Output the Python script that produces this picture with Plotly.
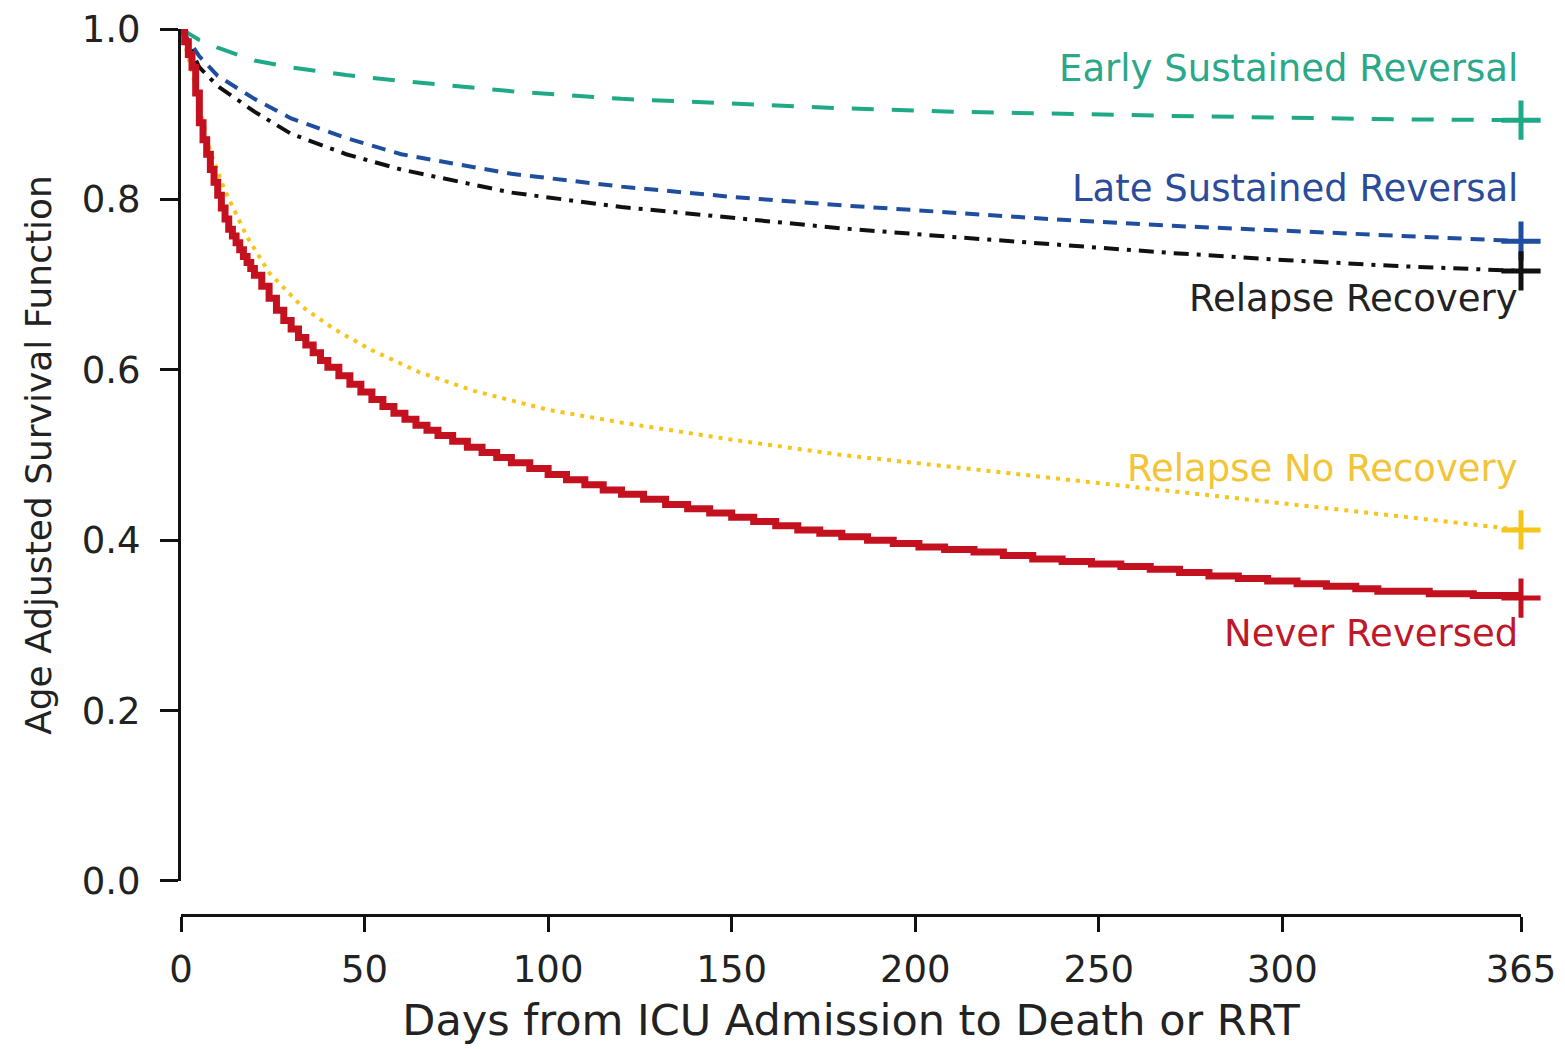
import plotly.graph_objects as go

# ---------------- data ----------------
x_ticks = [0, 50, 100, 150, 200, 250, 300, 365]
y_ticks = [0.0, 0.2, 0.4, 0.6, 0.8, 1.0]

early_days = [0, 5, 10, 20, 30, 45, 60, 90, 120, 150, 180, 210, 240, 270, 300, 330, 365]
early_vals = [1.0, 0.987, 0.978, 0.963, 0.955, 0.946, 0.939, 0.927, 0.918, 0.912, 0.907, 0.903, 0.900, 0.898, 0.896, 0.894, 0.893]

late_days = [0, 5, 10, 20, 30, 45, 60, 90, 120, 150, 180, 210, 240, 270, 300, 330, 365]
late_vals = [1.0, 0.968, 0.945, 0.918, 0.895, 0.872, 0.853, 0.830, 0.815, 0.803, 0.793, 0.784, 0.776, 0.769, 0.763, 0.757, 0.751]

relrec_days = [0, 5, 10, 20, 30, 45, 60, 90, 120, 150, 180, 210, 240, 270, 300, 330, 365]
relrec_vals = [1.0, 0.955, 0.933, 0.903, 0.877, 0.853, 0.835, 0.808, 0.791, 0.778, 0.766, 0.756, 0.746, 0.737, 0.729, 0.722, 0.716]

relno_days = [0, 3, 5, 8, 12, 18, 24, 33, 42, 52, 65, 80, 100, 120, 150, 180, 210, 240, 270, 300, 330, 365]
relno_vals = [1.0, 0.95, 0.91, 0.856, 0.81, 0.756, 0.714, 0.674, 0.647, 0.623, 0.597, 0.575, 0.553, 0.538, 0.518, 0.500, 0.486, 0.472, 0.458, 0.444, 0.429, 0.412]

never_days = [0, 1, 2, 3, 4, 5, 6, 7, 8, 9, 10, 11, 12, 13, 14, 15, 16, 17, 18, 19, 20,
              22, 24, 26, 28, 30, 32, 34, 36, 38, 40, 43, 46, 49, 52, 55, 58, 61, 64, 67, 70,
              74, 78, 82, 86, 90, 95, 100, 105, 110, 115, 120, 126, 132, 138, 144, 150, 156,
              162, 168, 174, 180, 187, 194, 201, 208, 216, 224, 232, 240, 248, 256, 264, 272,
              280, 288, 296, 304, 312, 320, 326, 340, 352, 365]
never_vals = [1.0, 0.985, 0.97, 0.955, 0.925, 0.89, 0.87, 0.853, 0.835, 0.82, 0.805, 0.79, 0.777,
              0.765, 0.757, 0.749, 0.741, 0.733, 0.726, 0.719, 0.711,
              0.698, 0.684, 0.670, 0.658, 0.648, 0.638, 0.629, 0.620, 0.611, 0.603, 0.593, 0.583,
              0.574, 0.565, 0.557, 0.549, 0.542, 0.535, 0.529, 0.523,
              0.516, 0.509, 0.503, 0.497, 0.491, 0.484, 0.477, 0.471, 0.465, 0.459, 0.454, 0.448,
              0.442, 0.437, 0.432, 0.427, 0.422,
              0.417, 0.412, 0.408, 0.404, 0.400, 0.396, 0.392, 0.389, 0.386, 0.382, 0.378, 0.375,
              0.372, 0.369, 0.366, 0.362,
              0.358, 0.355, 0.352, 0.349, 0.346, 0.343, 0.340, 0.337, 0.335, 0.332]

series_names = ["Early Sustained Reversal", "Late Sustained Reversal", "Relapse Recovery",
                "Relapse No Recovery", "Never Reversed"]
label_vals = [0.954, 0.813, 0.684, 0.484, 0.290]

# ---------------- styles ----------------
GREEN = "#1fa987"
BLUE = "#1f4e9e"
BLACK = "#111111"
YELLOW = "#f6c51b"
RED = "#c4111f"
TEXT = "#222222"
FONT = "DejaVu Sans, Verdana, sans-serif"

specs = [
    (early_days, early_vals, GREEN, "22px,18px", 4, "linear", "#2aa88a"),
    (late_days, late_vals, BLUE, "14px,9px", 4, "linear", "#2b4c9b"),
    (relrec_days, relrec_vals, BLACK, "15px,8px,4px,8px", 4, "linear", "#222222"),
    (relno_days, relno_vals, YELLOW, "4px,6px", 4, "linear", "#f2c438"),
    (never_days, never_vals, RED, "solid", 7, "hv", "#c0182a"),
]

fig = go.Figure()
for (d, v, col, dash, w, shape, tcol), name in zip(specs, series_names):
    fig.add_trace(go.Scatter(x=d, y=v, mode="lines", name=name,
                             line=dict(color=col, width=w, dash=dash, shape=shape),
                             showlegend=False))
for (d, v, col, dash, w, shape, tcol), name in zip(specs, series_names):
    fig.add_trace(go.Scatter(x=[d[-1]], y=[v[-1]], mode="markers", showlegend=False,
                             cliponaxis=False,
                             marker=dict(symbol="cross-thin", size=28,
                                         line=dict(color=col, width=5))))

for (d, v, col, dash, w, shape, tcol), name, ly in zip(specs, series_names, label_vals):
    fig.add_annotation(x=364.6, y=ly, xref="x", yref="y", text=name, showarrow=False,
                       xanchor="right", yanchor="middle",
                       font=dict(family=FONT, size=37, color=tcol))

fig.update_layout(
    width=1565, height=1049,
    margin=dict(l=181, r=44, t=29, b=134, autoexpand=False),
    paper_bgcolor="white", plot_bgcolor="white",
    font=dict(family=FONT, size=36, color=TEXT),
    xaxis=dict(range=[0, 365], tickvals=x_ticks, ticktext=[str(t) for t in x_ticks],
               showgrid=False, zeroline=False, showline=True, linecolor=BLACK, linewidth=3,
               ticks="outside", ticklen=15, tickwidth=3, tickcolor=BLACK,
               anchor="free", position=0, ticklabelstandoff=6, automargin=False,
               tickfont=dict(family=FONT, size=37, color=TEXT),
               title=dict(text="Days from ICU Admission to Death or RRT", standoff=14,
                          font=dict(family=FONT, size=43, color=TEXT))),
    yaxis=dict(range=[0, 1], domain=[0.0384, 1], tickvals=y_ticks,
               tickformat=".1f", automargin=False,
               showgrid=False, zeroline=False, showline=True, linecolor=BLACK, linewidth=3,
               ticks="outside", ticklen=18, tickwidth=3, tickcolor=BLACK,
               ticklabelstandoff=12,
               tickfont=dict(family=FONT, size=37, color=TEXT),
               title=dict(text="Age Adjusted Survival Function", standoff=20,
                          font=dict(family=FONT, size=36, color=TEXT))),
)

fig.write_html("out.html")
